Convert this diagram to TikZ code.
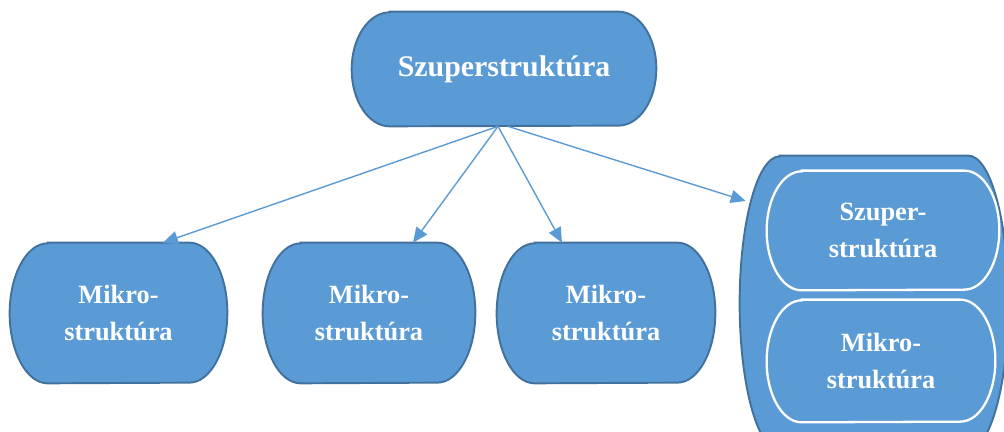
\documentclass[tikz,border=0pt]{standalone}
\usepackage{fontspec}
\setmainfont{Liberation Serif}
\usetikzlibrary{arrows.meta,calc,backgrounds}
\definecolor{boxblue}{HTML}{5B9BD5}
\definecolor{boxedge}{HTML}{41719C}
% flat top and bottom, elliptic sides round a named node
\newcommand{\bubble}[4][]{%
  \path[#1] ($(#2.north west)+(#3,0)$) -- ($(#2.north east)-(#3,0)$)
    arc[start angle=90, end angle=-90, x radius=#3, y radius=#4]
    -- ($(#2.south west)+(#3,0)$)
    arc[start angle=270, end angle=90, x radius=#3, y radius=#4] -- cycle;}

\begin{document}
\begin{tikzpicture}[
    every node/.style={font=\bfseries\fontsize{15}{21}\selectfont, text=white,
      align=center, inner sep=0pt},
    outer/.style={fill=boxblue, draw=boxedge, line width=1.1pt},
    inner/.style={fill=boxblue, draw=white, line width=1.3pt},
    link/.style={draw=boxblue, line width=0.8pt, -{Triangle[length=8.5pt,width=7.5pt]}}
  ]
  \useasboundingbox (0,0) rectangle (20.08,8.64);
  \clip (0,0) rectangle (20.08,8.64);

  \node[minimum width=6.08cm, minimum height=2.28cm,
    font=\bfseries\fontsize{17}{21}\selectfont] (top) at (10.08,7.26) {Szuperstruktúra};

  \node[minimum width=4.34cm, minimum height=2.8cm] (m1) at (2.37,2.38) {Mikro-\\struktúra};
  \node[minimum width=4.24cm, minimum height=2.8cm] (m2) at (7.38,2.38) {Mikro-\\struktúra};
  \node[minimum width=4.36cm, minimum height=2.8cm] (m3) at (12.12,2.38) {Mikro-\\struktúra};

  \node[minimum width=5.36cm, minimum height=5.88cm] (cont) at (17.48,2.58) {};
  \node[minimum width=4.64cm, minimum height=2.38cm] (sup) at (17.66,4.03) {Szuper-\\struktúra};
  \node[minimum width=4.56cm, minimum height=2.44cm] (mik) at (17.62,1.42) {Mikro-\\struktúra};

  \begin{scope}[on background layer]
    \bubble[outer]{top}{0.76cm}{1.14cm}
    \bubble[outer]{m1}{0.76cm}{1.4cm}
    \bubble[outer]{m2}{0.76cm}{1.4cm}
    \bubble[outer]{m3}{0.76cm}{1.4cm}
    \bubble[outer]{cont}{0.8cm}{2.94cm}
    \bubble[inner]{sup}{0.7cm}{1.19cm}
    \bubble[inner]{mik}{0.7cm}{1.22cm}
  \end{scope}

  \coordinate (src) at ([xshift=-0.12cm]top.south);
  \draw[link] (src) -- ([xshift=0.89cm]m1.north);
  \draw[link] (src) -- ([xshift=0.88cm]m2.north);
  \draw[link] (src) -- ([xshift=-0.88cm]m3.north);
  \draw[link] ([xshift=0.08cm]top.south) -- ([xshift=0.12cm,yshift=2.04cm]cont.west);
\end{tikzpicture}
\end{document}
